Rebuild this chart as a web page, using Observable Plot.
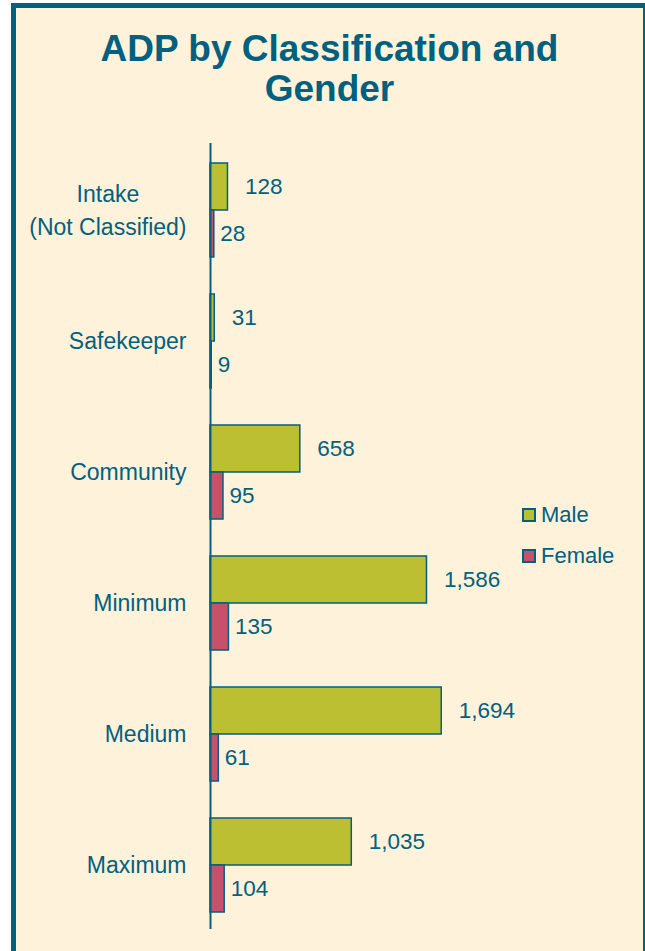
<!DOCTYPE html>
<html><head><meta charset="utf-8">
<script src="https://cdn.jsdelivr.net/npm/d3@7"></script>
<script src="https://cdn.jsdelivr.net/npm/@observablehq/plot@0.6"></script>
<style>
html,body{margin:0;padding:0;background:#fff;overflow:hidden;width:645px;height:951px;}
#frame{position:absolute;left:11px;top:3px;width:637px;height:1000px;box-sizing:border-box;border:5px solid #00607F;border-bottom:none;background:#FFF2DA;}
#title{position:absolute;left:16px;width:627px;top:29px;text-align:center;font:bold 37px "Liberation Sans",Arial,sans-serif;line-height:40px;color:#00607F;}
#chart{position:absolute;left:0;top:130px;}
.li{position:absolute;left:522px;height:22px;font:22px "Liberation Sans",Arial,sans-serif;line-height:22px;color:#00607F;white-space:nowrap;}
.li .sw{position:absolute;left:0;top:4px;width:14px;height:14px;box-sizing:border-box;border:2px solid #00607F;}
.li .lt{position:absolute;left:19px;top:0;}
</style></head>
<body>
<div id="frame"></div>
<div id="title">ADP by Classification and<br>Gender</div>
<div id="chart"></div>
<div id="legend"></div>
<script>
const categories = ["Intake\n(Not Classified)", "Safekeeper", "Community", "Minimum", "Medium", "Maximum"];
const genders = ["Male", "Female"];
const male = [128, 31, 658, 1586, 1694, 1035];
const female = [28, 9, 95, 135, 61, 104];

const teal = "#00607F";
const colors = ["#BDBF33", "#C8506A"];

const data = [];
categories.forEach((c, i) => {
  data.push({category: c, gender: "Male", value: male[i]});
  data.push({category: c, gender: "Female", value: female[i]});
});
const fmt = d3.format(",");

const chart = Plot.plot({
  width: 645,
  height: 821,
  marginTop: 13,
  marginBottom: 22,
  marginLeft: 210,
  marginRight: 162,
  style: {fontFamily: '"Liberation Sans", Arial, sans-serif', fontSize: "22px", color: teal, background: "transparent", overflow: "visible"},
  x: {domain: [0, 2000], axis: null},
  y: {domain: genders, axis: null, paddingInner: 0, paddingOuter: 0.378, align: 0.53},
  fy: {domain: categories, padding: 0, label: null},
  color: {domain: genders, range: colors},
  marks: [
    Plot.axisFy({anchor: "left", tickSize: 0, tickPadding: 24, fontSize: 23, lineHeight: 1.42, label: null, fill: teal, dy: -1}),
    Plot.barX(data, {x: "value", y: "gender", fy: "category", fill: "gender", stroke: teal, strokeWidth: 1.5}),
    Plot.text(data.filter(d => d.gender === "Male"), {x: "value", y: "gender", fy: "category", text: d => fmt(d.value), textAnchor: "start", dx: 17, fontSize: 22.5, fill: teal}),
    Plot.text(data.filter(d => d.gender === "Female"), {x: "value", y: "gender", fy: "category", text: d => fmt(d.value), textAnchor: "start", dx: 6, fontSize: 22.5, fill: teal}),
    Plot.ruleX([0], {stroke: teal, strokeWidth: 2})
  ]
});
document.getElementById("chart").append(chart);

// center multi-line category labels relative to each other (right edge at the tick)
chart.querySelectorAll("text").forEach(t => {
  const spans = t.querySelectorAll("tspan");
  if (spans.length > 1) {
    let maxW = 0;
    spans.forEach(s => { maxW = Math.max(maxW, s.getComputedTextLength()); });
    spans.forEach(s => { s.setAttribute("text-anchor", "middle"); s.setAttribute("x", -maxW / 2); });
  }
});

const legend = document.getElementById("legend");
const baselines = [504, 545];
genders.forEach((g, i) => {
  const item = document.createElement("div");
  item.className = "li";
  item.style.top = baselines[i] + "px";
  item.innerHTML = `<span class="sw" style="background:${colors[i]}"></span><span class="lt">${g}</span>`;
  legend.append(item);
});
</script>
</body></html>
